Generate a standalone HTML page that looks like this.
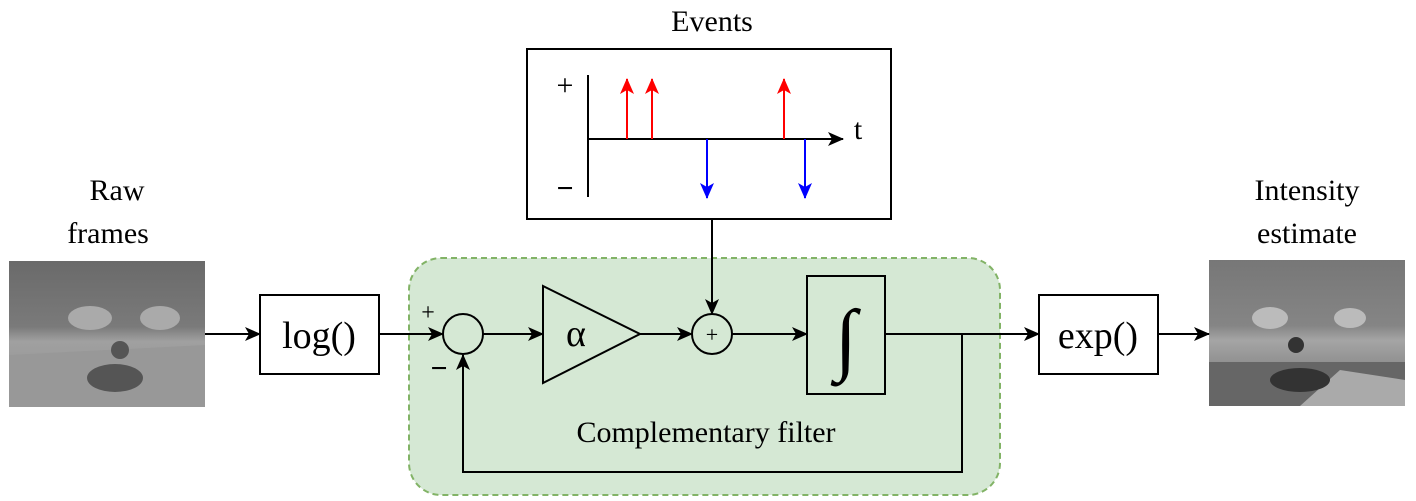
<!DOCTYPE html>
<html><head><style>body{margin:0;background:#fff}svg{display:block}text{font-family:"Liberation Serif",serif;fill:#000}</style></head>
<body>
<svg width="1416" height="501" viewBox="0 0 1416 501" xmlns="http://www.w3.org/2000/svg">
<defs>
<marker id="a" markerWidth="16" markerHeight="14" refX="15" refY="7" orient="auto" markerUnits="userSpaceOnUse"><path d="M0,0 L16,7 L0,14 L4,7 Z" fill="#000"/></marker>
<marker id="r" markerWidth="16" markerHeight="14" refX="15" refY="7" orient="auto" markerUnits="userSpaceOnUse"><path d="M0,0 L16,7 L0,14 L4,7 Z" fill="#f00"/></marker>
<marker id="b" markerWidth="16" markerHeight="14" refX="15" refY="7" orient="auto" markerUnits="userSpaceOnUse"><path d="M0,0 L16,7 L0,14 L4,7 Z" fill="#00f"/></marker>
<linearGradient id="g1" x1="0" y1="0" x2="0" y2="1"><stop offset="0" stop-color="#6a6a6a"/><stop offset="0.45" stop-color="#7a7a7a"/><stop offset="0.55" stop-color="#a0a0a0"/><stop offset="1" stop-color="#909090"/></linearGradient>
<linearGradient id="g2" x1="0" y1="0" x2="0" y2="1"><stop offset="0" stop-color="#777"/><stop offset="0.45" stop-color="#858585"/><stop offset="0.55" stop-color="#a5a5a5"/><stop offset="1" stop-color="#6a6a6a"/></linearGradient>
</defs>
<rect x="9" y="261" width="196" height="146" fill="url(#g1)"/>
<ellipse cx="90" cy="318" rx="22" ry="12" fill="#aaa"/><ellipse cx="160" cy="318" rx="20" ry="12" fill="#aaa"/>
<path d="M9,355 L205,345 L205,407 L9,407Z" fill="#989898"/>
<ellipse cx="115" cy="378" rx="28" ry="14" fill="#555"/><circle cx="120" cy="350" r="9" fill="#555"/>
<rect x="1209" y="260" width="196" height="146" fill="url(#g2)"/>
<ellipse cx="1270" cy="318" rx="18" ry="11" fill="#bbb"/><ellipse cx="1350" cy="318" rx="16" ry="10" fill="#bbb"/>
<path d="M1209,362 L1405,362 L1405,406 L1209,406Z" fill="#666"/>
<path d="M1300,406 L1340,370 L1405,380 L1405,406Z" fill="#aaa"/>
<ellipse cx="1300" cy="380" rx="30" ry="12" fill="#333"/><circle cx="1296" cy="345" r="8" fill="#333"/>
<text x="117" y="200" font-size="30" text-anchor="middle">Raw</text>
<text x="108" y="243" font-size="30" text-anchor="middle">frames</text>
<text x="1307" y="200" font-size="30" text-anchor="middle">Intensity</text>
<text x="1307" y="243" font-size="30" text-anchor="middle">estimate</text>
<text x="712" y="31" font-size="30" text-anchor="middle">Events</text>
<rect x="409" y="258" width="591" height="237" rx="32" fill="#d5e8d4" stroke="#82b366" stroke-width="2" stroke-dasharray="6,4"/>
<text x="706" y="442" font-size="30" text-anchor="middle">Complementary filter</text>
<line x1="205" y1="334" x2="260" y2="334" stroke="#000" stroke-width="2" marker-end="url(#a)"/>
<rect x="260" y="295" width="119" height="79" fill="#fff" stroke="#000" stroke-width="2"/>
<text x="319" y="348" font-size="38" text-anchor="middle">log()</text>
<line x1="379" y1="334" x2="443" y2="334" stroke="#000" stroke-width="2" marker-end="url(#a)"/>
<circle cx="463" cy="334" r="20" fill="none" stroke="#000" stroke-width="2"/>
<text x="428" y="320" font-size="24" text-anchor="middle">+</text>
<text x="439" y="378" font-size="30" font-weight="bold" text-anchor="middle">−</text>
<line x1="483" y1="334" x2="543" y2="334" stroke="#000" stroke-width="2" marker-end="url(#a)"/>
<path d="M543,286 L640,334 L543,383Z" fill="none" stroke="#000" stroke-width="2"/>
<text x="576" y="346" font-size="38" text-anchor="middle">α</text>
<line x1="640" y1="334" x2="692" y2="334" stroke="#000" stroke-width="2" marker-end="url(#a)"/>
<circle cx="712" cy="334" r="20" fill="none" stroke="#000" stroke-width="2"/>
<text x="712" y="342" font-size="22" text-anchor="middle">+</text>
<line x1="732" y1="334" x2="807" y2="334" stroke="#000" stroke-width="2" marker-end="url(#a)"/>
<rect x="807" y="276" width="78" height="118" fill="none" stroke="#000" stroke-width="2"/>
<text x="846" y="365" font-size="80" text-anchor="middle">∫</text>
<line x1="885" y1="334" x2="1039" y2="334" stroke="#000" stroke-width="2" marker-end="url(#a)"/>
<path d="M962,334 L962,472 L463,472 L463,355" fill="none" stroke="#000" stroke-width="2" marker-end="url(#a)"/>
<rect x="1039" y="295" width="119" height="79" fill="#fff" stroke="#000" stroke-width="2"/>
<text x="1098" y="348" font-size="38" text-anchor="middle">exp()</text>
<line x1="1158" y1="334" x2="1209" y2="334" stroke="#000" stroke-width="2" marker-end="url(#a)"/>
<rect x="527" y="49" width="364" height="170" fill="#fff" stroke="#000" stroke-width="2"/>
<line x1="712" y1="219" x2="712" y2="314" stroke="#000" stroke-width="2" marker-end="url(#a)"/>
<line x1="588" y1="75" x2="588" y2="197" stroke="#000" stroke-width="2"/>
<line x1="588" y1="139" x2="843" y2="139" stroke="#000" stroke-width="2" marker-end="url(#a)"/>
<text x="858" y="139" font-size="30" text-anchor="middle">t</text>
<text x="565" y="95" font-size="30" text-anchor="middle">+</text>
<text x="565" y="198" font-size="30" font-weight="bold" text-anchor="middle">−</text>
<line x1="627" y1="139" x2="627" y2="79" stroke="#f00" stroke-width="2" marker-end="url(#r)"/>
<line x1="652" y1="139" x2="652" y2="79" stroke="#f00" stroke-width="2" marker-end="url(#r)"/>
<line x1="784" y1="139" x2="784" y2="79" stroke="#f00" stroke-width="2" marker-end="url(#r)"/>
<line x1="707" y1="139" x2="707" y2="198" stroke="#00f" stroke-width="2" marker-end="url(#b)"/>
<line x1="805" y1="139" x2="805" y2="198" stroke="#00f" stroke-width="2" marker-end="url(#b)"/>
</svg>
</body></html>
